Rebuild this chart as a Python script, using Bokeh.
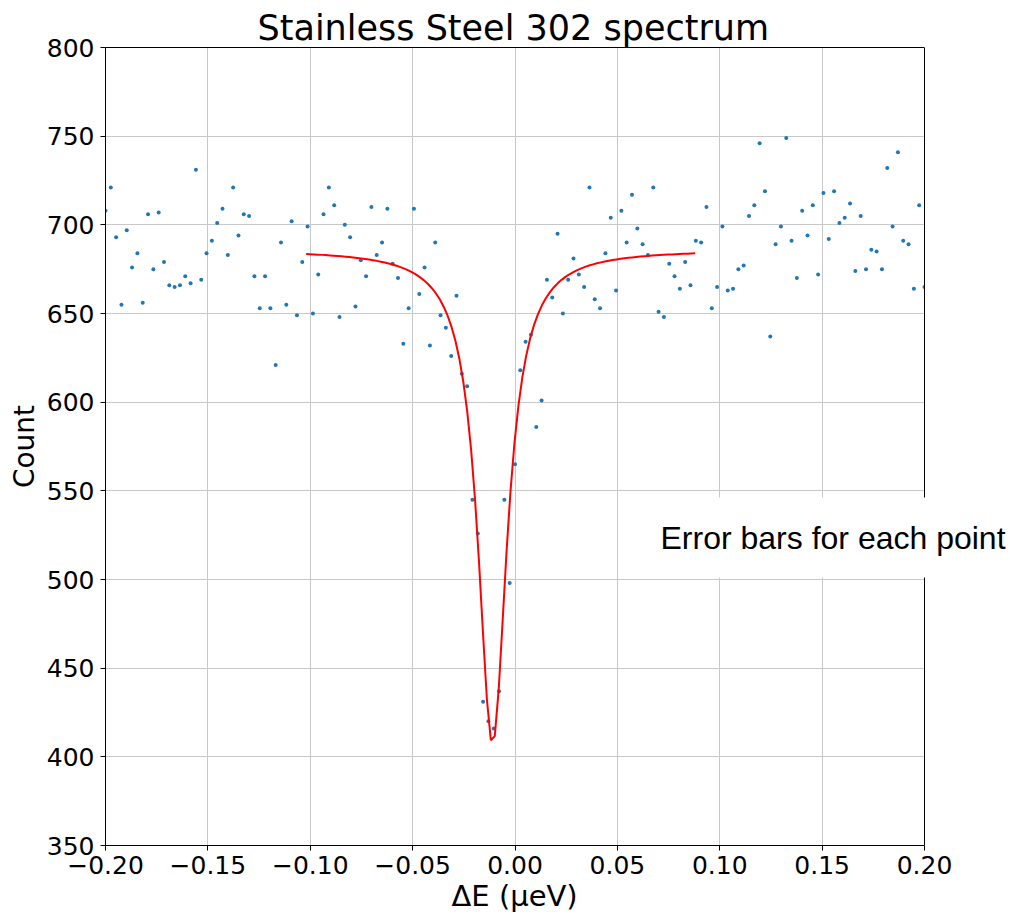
import numpy as np
from bokeh.plotting import figure
from bokeh.models import (FixedTicker, CustomJSTickFormatter, Label, Range1d,
                          BoxAnnotation, Span, LinearAxis, Title)
from bokeh.embed import file_html
from bokeh.resources import INLINE

# Measured counts (evenly spaced energy grid from -0.20 to 0.20 ueV)
counts = [708, 721, 693, 655, 697, 676, 684, 656, 706, 675,
          707, 679, 666, 665, 666, 671, 667, 731, 669, 684,
          691, 701, 709, 683, 721, 694, 706, 705, 671, 653,
          671, 653, 621, 690, 655, 702, 649, 679, 699, 650,
          672, 706, 721, 711, 648, 700, 693, 654, 680, 671,
          710, 683, 690, 709, 678, 670, 633, 653, 709, 661,
          676, 632, 690, 649, 642, 626, 660, 616, 609, 545,
          526, 431, 420, 416, 437, 545, 498, 565, 618, 634,
          638, 586, 601, 669, 659, 695, 650, 669, 681, 672,
          665, 721, 658, 653, 684, 704, 663, 708, 690, 717,
          698, 689, 683, 721, 651, 648, 678, 671, 664, 679,
          666, 691, 690, 710, 653, 665, 699, 663, 664, 675,
          677, 705, 711, 746, 719, 637, 689, 699, 749, 691,
          670, 708, 694, 711, 672, 718, 692, 719, 701, 704,
          712, 674, 705, 675, 686, 685, 675, 732, 699, 741,
          691, 689, 664, 711, 665]
e_start, e_stop = -0.2, 0.2
energy = np.linspace(e_start, e_stop, len(counts))

# Lorentzian fit parameters
fit_center = -0.011
fit_gamma = 0.0086
fit_baseline = 686.0
fit_depth = 279.0
fit_lo, fit_hi, fit_n = -0.102, 0.088, 100
fit_x = np.linspace(fit_lo, fit_hi, fit_n)
fit_y = fit_baseline - fit_depth * fit_gamma**2 / ((fit_x - fit_center)**2 + fit_gamma**2)

x_ticks = [-0.2, -0.15, -0.1, -0.05, 0.0, 0.05, 0.1, 0.15, 0.2]
y_ticks = [350, 400, 450, 500, 550, 600, 650, 700, 750, 800]

W, H = 1010, 915
left_b, top_b, bottom_b = 105, 47, 70
axes_px = 819.0  # pixel width of the -0.2..0.2 axes box
frame_w = W - left_b
x_end = -0.2 + 0.4 * frame_w / axes_px

p = figure(width=W, height=H, x_range=Range1d(-0.2, x_end), y_range=Range1d(350, 800),
           output_backend="svg", toolbar_location=None,
           min_border_left=left_b, min_border_right=0, min_border_top=top_b,
           min_border_bottom=bottom_b,
           background_fill_color="white", border_fill_color="white")

p.title.text = "Stainless Steel 302 spectrum"
p.title.text_font = "DejaVu Sans"
p.title.text_font_size = "35px"
p.title.text_font_style = "normal"
p.title.text_color = "black"
p.title.align = "left"
p.title.offset = 152
p.title.standoff = 0

p.scatter(energy, counts, size=4, color="#1f77b4", line_color=None)
p.line(fit_x, fit_y, line_color="red", line_width=2)

for ax in (p.xaxis[0], p.yaxis[0]):
    ax.major_label_text_font = "DejaVu Sans"
    ax.major_label_text_font_size = "25px"
    ax.major_label_text_color = "black"
    ax.axis_label_text_font = "DejaVu Sans"
    ax.axis_label_text_font_size = "28px"
    ax.axis_label_text_font_style = "normal"
    ax.axis_label_text_color = "black"
    ax.major_tick_in = 0
    ax.major_tick_out = 5
    ax.minor_tick_line_color = None
    ax.axis_line_color = "black"
    ax.major_tick_line_color = "black"

p.xaxis[0].bounds = (-0.2, 0.2)
p.xaxis[0].major_label_standoff = 5
p.yaxis[0].major_label_standoff = 6
p.xaxis[0].ticker = FixedTicker(ticks=x_ticks)
p.yaxis[0].ticker = FixedTicker(ticks=y_ticks)
p.xaxis[0].formatter = CustomJSTickFormatter(code="""
    if (Math.abs(tick) < 1e-9) { return '0.00'; }
    return (tick < 0 ? '\u2212' : '') + Math.abs(tick).toFixed(2);
""")
p.yaxis[0].formatter = CustomJSTickFormatter(code="return tick.toFixed(0);")
p.yaxis[0].axis_label = "Count"
p.yaxis[0].axis_label_standoff = 3

# x-axis label, centred under the -0.2..0.2 axes box
x_label = Title(text="\u0394E (\u03bceV)", text_font="DejaVu Sans", text_font_size="29px",
                text_font_style="normal", text_color="black", align="left",
                offset=346, standoff=0)
p.add_layout(x_label, "below")

# top spine as a bare axis
top_ax = LinearAxis(ticker=FixedTicker(ticks=[]), bounds=(-0.2, 0.2),
                    major_tick_in=0, major_tick_out=0, minor_tick_in=0, minor_tick_out=0,
                    major_label_standoff=0, axis_line_color="black",
                    major_label_text_font_size="0px")
p.add_layout(top_ax, "above")

p.xgrid.ticker = FixedTicker(ticks=x_ticks)
p.ygrid.ticker = FixedTicker(ticks=y_ticks)
p.grid.grid_line_color = "#c8c8c8"
p.grid.grid_line_width = 1
p.outline_line_color = None

# blank area right of the axes box
blank = BoxAnnotation(left=0.2, fill_color="white", fill_alpha=1.0, line_color=None)
p.add_layout(blank)
right_spine = Span(location=0.2, dimension="height", line_color="black", line_width=1)
p.add_layout(right_spine)

note = Label(x=553, y=308, x_units="screen", y_units="screen",
             text="Error bars for each point", text_font="Liberation Sans",
             text_font_size="32px", text_color="black",
             text_baseline="middle", text_align="left",
             background_fill_color="white", background_fill_alpha=1.0,
             padding=dict(left=2, right=12, top=22, bottom=22))
p.add_layout(note)

open("out.html", "w").write(file_html(p, INLINE))
